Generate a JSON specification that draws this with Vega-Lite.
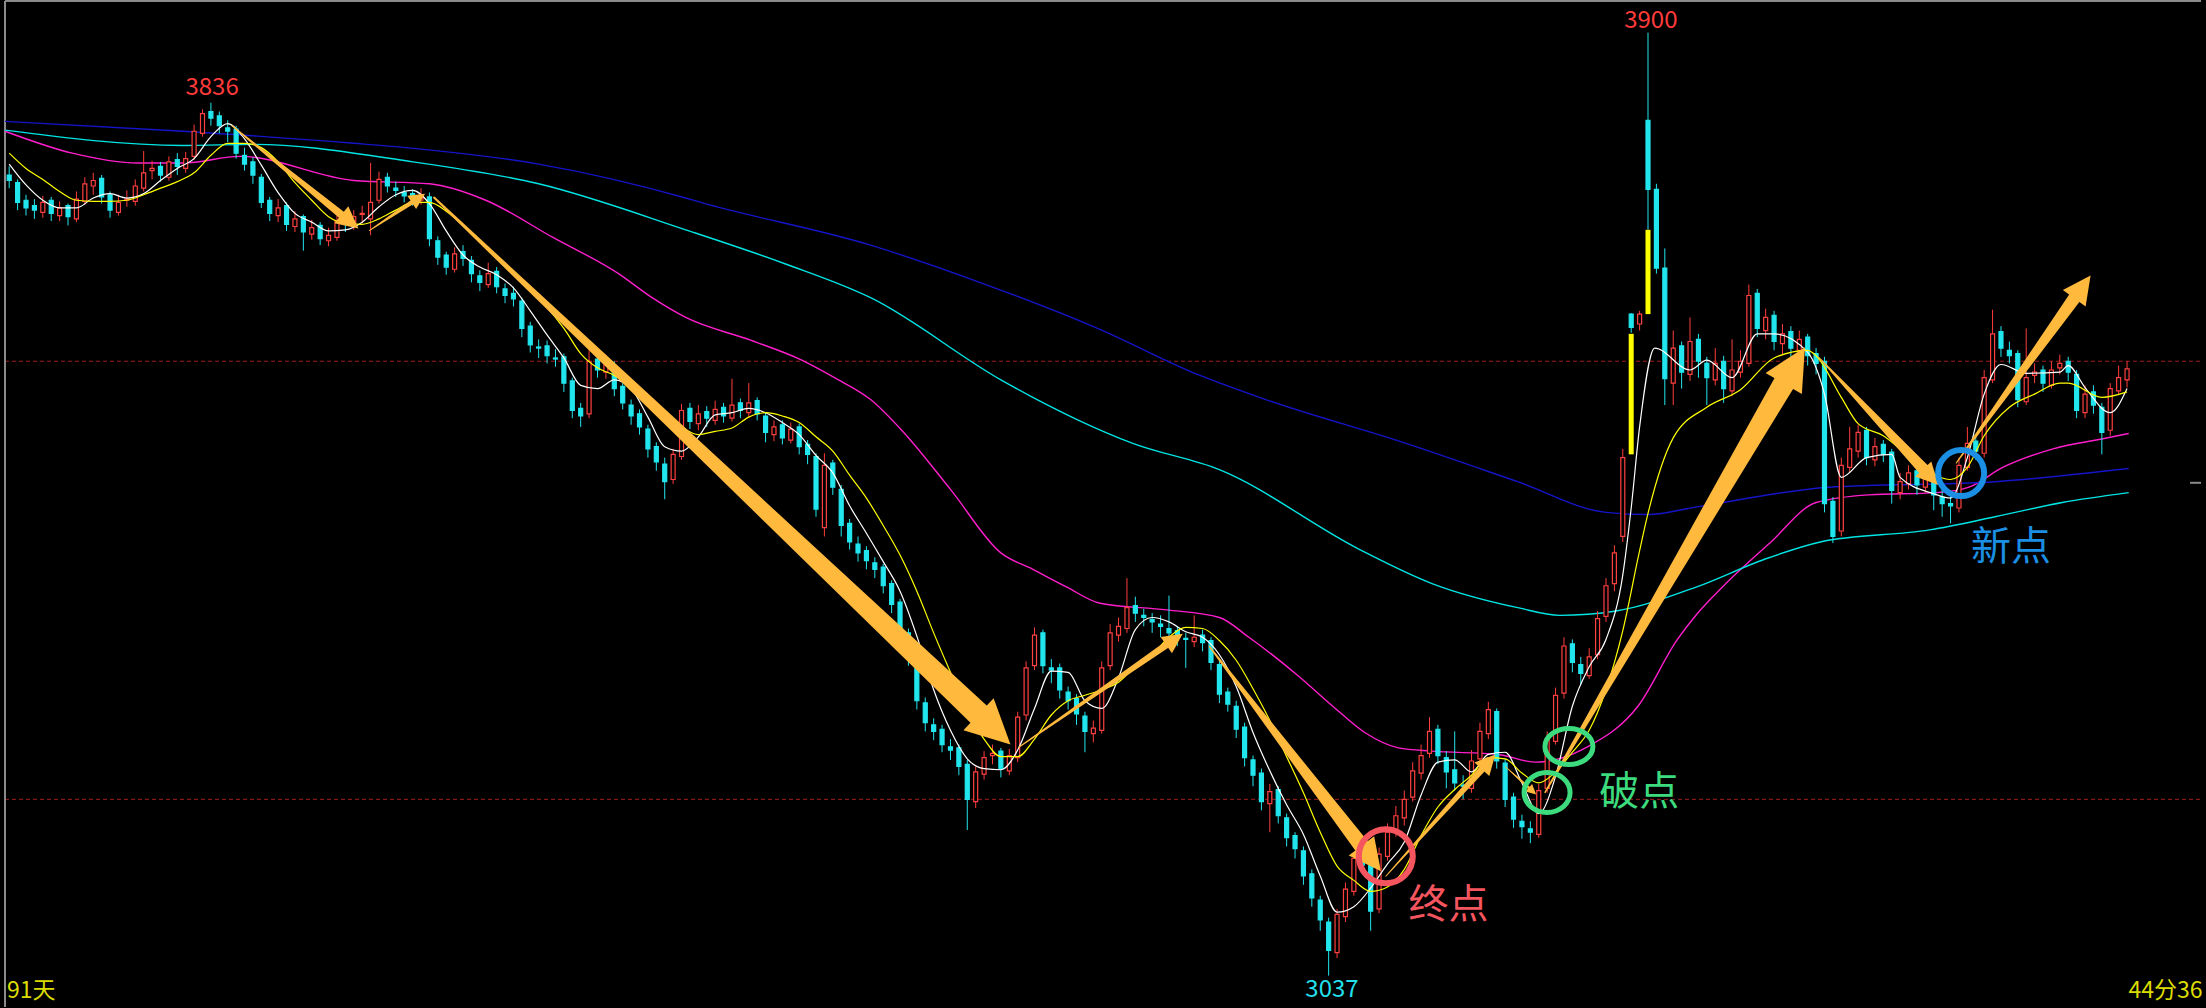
{
"$schema": "https://vega.github.io/schema/vega-lite/v6.json",
"width": 2206, "height": 1008,
"autosize": {"type": "fit", "contains": "padding"},
"padding": 0,
"background": "#000000",
"config": {"view": {"stroke": null}},
"datasets": {
"k": [
{"i":0,"o":3770,"h":3778,"l":3758,"c":3765},{"i":1,"o":3763,"h":3766,"l":3738,"c":3745},{"i":2,"o":3747,"h":3752,"l":3733,"c":3740},{"i":3,"o":3742,"h":3748,"l":3730,"c":3738},{"i":4,"o":3736,"h":3751,"l":3731,"c":3745},{"i":5,"o":3747,"h":3750,"l":3728,"c":3735},{"i":6,"o":3733,"h":3746,"l":3728,"c":3740},{"i":7,"o":3742,"h":3744,"l":3724,"c":3732},{"i":8,"o":3730,"h":3755,"l":3727,"c":3748},{"i":9,"o":3746,"h":3768,"l":3743,"c":3762},
{"i":10,"o":3760,"h":3772,"l":3752,"c":3765},{"i":11,"o":3767,"h":3770,"l":3744,"c":3750},{"i":12,"o":3752,"h":3755,"l":3731,"c":3738},{"i":13,"o":3736,"h":3752,"l":3733,"c":3745},{"i":14,"o":3747,"h":3756,"l":3741,"c":3748},{"i":15,"o":3746,"h":3766,"l":3742,"c":3760},{"i":16,"o":3758,"h":3792,"l":3755,"c":3772},{"i":17,"o":3774,"h":3783,"l":3766,"c":3776},{"i":18,"o":3778,"h":3782,"l":3764,"c":3770},{"i":19,"o":3768,"h":3787,"l":3765,"c":3782},
{"i":20,"o":3784,"h":3790,"l":3770,"c":3778},{"i":21,"o":3776,"h":3791,"l":3772,"c":3785},{"i":22,"o":3787,"h":3816,"l":3784,"c":3810},{"i":23,"o":3808,"h":3830,"l":3805,"c":3826},{"i":24,"o":3828,"h":3836,"l":3815,"c":3822},{"i":25,"o":3824,"h":3828,"l":3808,"c":3815},{"i":26,"o":3813,"h":3820,"l":3800,"c":3810},{"i":27,"o":3812,"h":3815,"l":3785,"c":3790},{"i":28,"o":3788,"h":3795,"l":3774,"c":3780},{"i":29,"o":3782,"h":3786,"l":3762,"c":3770},
{"i":30,"o":3768,"h":3771,"l":3740,"c":3745},{"i":31,"o":3747,"h":3750,"l":3728,"c":3735},{"i":32,"o":3733,"h":3748,"l":3727,"c":3740},{"i":33,"o":3742,"h":3745,"l":3719,"c":3725},{"i":34,"o":3723,"h":3737,"l":3718,"c":3730},{"i":35,"o":3732,"h":3734,"l":3701,"c":3718},{"i":36,"o":3716,"h":3729,"l":3711,"c":3722},{"i":37,"o":3724,"h":3727,"l":3706,"c":3712},{"i":38,"o":3710,"h":3722,"l":3705,"c":3715},{"i":39,"o":3713,"h":3733,"l":3710,"c":3728},
{"i":40,"o":3730,"h":3736,"l":3718,"c":3725},{"i":41,"o":3723,"h":3738,"l":3720,"c":3732},{"i":42,"o":3734,"h":3742,"l":3726,"c":3735},{"i":43,"o":3730,"h":3781,"l":3715,"c":3745},{"i":44,"o":3747,"h":3773,"l":3744,"c":3766},{"i":45,"o":3768,"h":3772,"l":3754,"c":3760},{"i":46,"o":3758,"h":3764,"l":3750,"c":3756},{"i":47,"o":3754,"h":3760,"l":3745,"c":3751},{"i":48,"o":3753,"h":3757,"l":3742,"c":3749},{"i":49,"o":3747,"h":3758,"l":3743,"c":3752},
{"i":50,"o":3750,"h":3754,"l":3705,"c":3712},{"i":51,"o":3710,"h":3714,"l":3688,"c":3695},{"i":52,"o":3697,"h":3700,"l":3679,"c":3686},{"i":53,"o":3684,"h":3704,"l":3681,"c":3698},{"i":54,"o":3700,"h":3706,"l":3687,"c":3694},{"i":55,"o":3692,"h":3696,"l":3672,"c":3680},{"i":56,"o":3678,"h":3683,"l":3664,"c":3672},{"i":57,"o":3670,"h":3690,"l":3667,"c":3680},{"i":58,"o":3682,"h":3686,"l":3662,"c":3668},{"i":59,"o":3666,"h":3671,"l":3653,"c":3660},
{"i":60,"o":3662,"h":3668,"l":3650,"c":3657},{"i":61,"o":3655,"h":3658,"l":3622,"c":3630},{"i":62,"o":3632,"h":3636,"l":3608,"c":3615},{"i":63,"o":3613,"h":3620,"l":3603,"c":3612},{"i":64,"o":3614,"h":3619,"l":3598,"c":3605},{"i":65,"o":3603,"h":3611,"l":3595,"c":3602},{"i":66,"o":3604,"h":3607,"l":3572,"c":3580},{"i":67,"o":3582,"h":3585,"l":3548,"c":3555},{"i":68,"o":3557,"h":3562,"l":3540,"c":3550},{"i":69,"o":3552,"h":3610,"l":3548,"c":3600},
{"i":70,"o":3602,"h":3608,"l":3585,"c":3592},{"i":71,"o":3590,"h":3606,"l":3584,"c":3598},{"i":72,"o":3596,"h":3600,"l":3568,"c":3575},{"i":73,"o":3577,"h":3580,"l":3556,"c":3562},{"i":74,"o":3560,"h":3565,"l":3542,"c":3550},{"i":75,"o":3552,"h":3556,"l":3533,"c":3540},{"i":76,"o":3538,"h":3542,"l":3512,"c":3520},{"i":77,"o":3522,"h":3526,"l":3500,"c":3508},{"i":78,"o":3506,"h":3512,"l":3474,"c":3490},{"i":79,"o":3492,"h":3520,"l":3488,"c":3515},
{"i":80,"o":3513,"h":3561,"l":3510,"c":3555},{"i":81,"o":3557,"h":3562,"l":3538,"c":3545},{"i":82,"o":3543,"h":3560,"l":3537,"c":3552},{"i":83,"o":3554,"h":3559,"l":3540,"c":3548},{"i":84,"o":3546,"h":3564,"l":3542,"c":3556},{"i":85,"o":3558,"h":3562,"l":3544,"c":3550},{"i":86,"o":3548,"h":3584,"l":3545,"c":3560},{"i":87,"o":3562,"h":3566,"l":3548,"c":3555},{"i":88,"o":3553,"h":3580,"l":3549,"c":3562},{"i":89,"o":3564,"h":3567,"l":3546,"c":3552},
{"i":90,"o":3550,"h":3553,"l":3526,"c":3535},{"i":91,"o":3533,"h":3546,"l":3527,"c":3540},{"i":92,"o":3542,"h":3546,"l":3524,"c":3530},{"i":93,"o":3528,"h":3544,"l":3525,"c":3538},{"i":94,"o":3540,"h":3543,"l":3515,"c":3522},{"i":95,"o":3524,"h":3528,"l":3506,"c":3515},{"i":96,"o":3513,"h":3516,"l":3458,"c":3465},{"i":97,"o":3448,"h":3516,"l":3440,"c":3505},{"i":98,"o":3507,"h":3510,"l":3478,"c":3485},{"i":99,"o":3483,"h":3487,"l":3440,"c":3450},
{"i":100,"o":3452,"h":3456,"l":3428,"c":3435},{"i":101,"o":3433,"h":3440,"l":3417,"c":3425},{"i":102,"o":3427,"h":3431,"l":3410,"c":3418},{"i":103,"o":3416,"h":3421,"l":3402,"c":3410},{"i":104,"o":3412,"h":3415,"l":3388,"c":3395},{"i":105,"o":3397,"h":3400,"l":3370,"c":3378},{"i":106,"o":3380,"h":3383,"l":3342,"c":3350},{"i":107,"o":3352,"h":3356,"l":3322,"c":3330},{"i":108,"o":3332,"h":3335,"l":3282,"c":3290},{"i":109,"o":3288,"h":3293,"l":3262,"c":3270},
{"i":110,"o":3268,"h":3274,"l":3254,"c":3262},{"i":111,"o":3264,"h":3268,"l":3243,"c":3250},{"i":112,"o":3248,"h":3255,"l":3236,"c":3245},{"i":113,"o":3247,"h":3250,"l":3222,"c":3230},{"i":114,"o":3232,"h":3236,"l":3172,"c":3200},{"i":115,"o":3198,"h":3230,"l":3192,"c":3225},{"i":116,"o":3223,"h":3244,"l":3218,"c":3238},{"i":117,"o":3240,"h":3250,"l":3232,"c":3242},{"i":118,"o":3244,"h":3247,"l":3220,"c":3228},{"i":119,"o":3226,"h":3246,"l":3222,"c":3240},
{"i":120,"o":3238,"h":3280,"l":3234,"c":3275},{"i":121,"o":3277,"h":3326,"l":3272,"c":3320},{"i":122,"o":3322,"h":3357,"l":3318,"c":3350},{"i":123,"o":3352,"h":3355,"l":3315,"c":3322},{"i":124,"o":3320,"h":3328,"l":3306,"c":3318},{"i":125,"o":3320,"h":3324,"l":3292,"c":3300},{"i":126,"o":3298,"h":3303,"l":3282,"c":3290},{"i":127,"o":3292,"h":3296,"l":3268,"c":3278},{"i":128,"o":3276,"h":3280,"l":3243,"c":3262},{"i":129,"o":3260,"h":3272,"l":3252,"c":3265},
{"i":130,"o":3263,"h":3326,"l":3260,"c":3320},{"i":131,"o":3322,"h":3360,"l":3318,"c":3352},{"i":132,"o":3350,"h":3366,"l":3344,"c":3358},{"i":133,"o":3356,"h":3402,"l":3352,"c":3375},{"i":134,"o":3377,"h":3385,"l":3362,"c":3370},{"i":135,"o":3368,"h":3374,"l":3358,"c":3366},{"i":136,"o":3364,"h":3370,"l":3352,"c":3362},{"i":137,"o":3360,"h":3368,"l":3348,"c":3358},{"i":138,"o":3356,"h":3386,"l":3345,"c":3352},{"i":139,"o":3354,"h":3358,"l":3340,"c":3349},
{"i":140,"o":3347,"h":3352,"l":3320,"c":3346},{"i":141,"o":3344,"h":3368,"l":3339,"c":3348},{"i":142,"o":3350,"h":3355,"l":3335,"c":3343},{"i":143,"o":3345,"h":3348,"l":3318,"c":3325},{"i":144,"o":3323,"h":3327,"l":3288,"c":3296},{"i":145,"o":3298,"h":3302,"l":3280,"c":3287},{"i":146,"o":3285,"h":3290,"l":3256,"c":3264},{"i":147,"o":3266,"h":3270,"l":3230,"c":3238},{"i":148,"o":3236,"h":3240,"l":3212,"c":3222},{"i":149,"o":3224,"h":3228,"l":3190,"c":3198},
{"i":150,"o":3196,"h":3214,"l":3170,"c":3207},{"i":151,"o":3209,"h":3212,"l":3178,"c":3185},{"i":152,"o":3183,"h":3187,"l":3157,"c":3165},{"i":153,"o":3167,"h":3170,"l":3146,"c":3155},{"i":154,"o":3153,"h":3157,"l":3122,"c":3130},{"i":155,"o":3132,"h":3136,"l":3102,"c":3110},{"i":156,"o":3108,"h":3112,"l":3080,"c":3090},{"i":157,"o":3088,"h":3092,"l":3039,"c":3062},{"i":158,"o":3060,"h":3100,"l":3055,"c":3095},{"i":159,"o":3093,"h":3124,"l":3088,"c":3118},
{"i":160,"o":3116,"h":3152,"l":3112,"c":3146},{"i":161,"o":3148,"h":3156,"l":3132,"c":3140},{"i":162,"o":3140,"h":3144,"l":3080,"c":3098},{"i":163,"o":3100,"h":3156,"l":3096,"c":3150},{"i":164,"o":3148,"h":3178,"l":3144,"c":3170},{"i":165,"o":3172,"h":3194,"l":3166,"c":3185},{"i":166,"o":3183,"h":3208,"l":3176,"c":3200},{"i":167,"o":3202,"h":3234,"l":3198,"c":3226},{"i":168,"o":3224,"h":3250,"l":3218,"c":3240},{"i":169,"o":3242,"h":3275,"l":3238,"c":3262},
{"i":170,"o":3264,"h":3268,"l":3232,"c":3240},{"i":171,"o":3238,"h":3244,"l":3210,"c":3225},{"i":172,"o":3227,"h":3262,"l":3208,"c":3215},{"i":173,"o":3213,"h":3222,"l":3200,"c":3212},{"i":174,"o":3210,"h":3245,"l":3206,"c":3235},{"i":175,"o":3237,"h":3270,"l":3232,"c":3262},{"i":176,"o":3260,"h":3289,"l":3255,"c":3282},{"i":177,"o":3280,"h":3283,"l":3228,"c":3235},{"i":178,"o":3233,"h":3237,"l":3193,"c":3200},{"i":179,"o":3202,"h":3206,"l":3174,"c":3182},
{"i":180,"o":3180,"h":3186,"l":3164,"c":3175},{"i":181,"o":3173,"h":3180,"l":3160,"c":3170},{"i":182,"o":3168,"h":3214,"l":3165,"c":3208},{"i":183,"o":3210,"h":3262,"l":3206,"c":3255},{"i":184,"o":3253,"h":3302,"l":3250,"c":3295},{"i":185,"o":3297,"h":3348,"l":3292,"c":3340},{"i":186,"o":3342,"h":3346,"l":3316,"c":3325},{"i":187,"o":3323,"h":3330,"l":3305,"c":3315},{"i":188,"o":3313,"h":3338,"l":3310,"c":3330},{"i":189,"o":3332,"h":3372,"l":3328,"c":3365},
{"i":190,"o":3367,"h":3402,"l":3362,"c":3395},{"i":191,"o":3397,"h":3432,"l":3390,"c":3425},{"i":192,"o":3440,"h":3520,"l":3435,"c":3512},{"i":193,"o":3643,"h":3644,"l":3626,"c":3631},{"i":194,"o":3634,"h":3646,"l":3628,"c":3643},{"i":195,"o":3820,"h":3900,"l":3720,"c":3757},{"i":196,"o":3757,"h":3762,"l":3680,"c":3685},{"i":197,"o":3685,"h":3703,"l":3560,"c":3584},{"i":198,"o":3580,"h":3628,"l":3560,"c":3612},{"i":199,"o":3614,"h":3618,"l":3575,"c":3590},
{"i":200,"o":3588,"h":3640,"l":3582,"c":3618},{"i":201,"o":3620,"h":3625,"l":3585,"c":3600},{"i":202,"o":3598,"h":3604,"l":3560,"c":3585},{"i":203,"o":3583,"h":3612,"l":3578,"c":3598},{"i":204,"o":3600,"h":3605,"l":3562,"c":3575},{"i":205,"o":3573,"h":3620,"l":3568,"c":3592},{"i":206,"o":3590,"h":3610,"l":3585,"c":3600},{"i":207,"o":3598,"h":3670,"l":3595,"c":3660},{"i":208,"o":3662,"h":3666,"l":3622,"c":3630},{"i":209,"o":3628,"h":3648,"l":3620,"c":3640},
{"i":210,"o":3642,"h":3646,"l":3610,"c":3618},{"i":211,"o":3616,"h":3634,"l":3606,"c":3625},{"i":212,"o":3627,"h":3632,"l":3604,"c":3612},{"i":213,"o":3610,"h":3628,"l":3603,"c":3620},{"i":214,"o":3622,"h":3625,"l":3596,"c":3605},{"i":215,"o":3607,"h":3612,"l":3588,"c":3598},{"i":216,"o":3600,"h":3604,"l":3462,"c":3470},{"i":217,"o":3472,"h":3476,"l":3434,"c":3440},{"i":218,"o":3445,"h":3512,"l":3440,"c":3505},{"i":219,"o":3503,"h":3540,"l":3498,"c":3520},
{"i":220,"o":3518,"h":3542,"l":3512,"c":3535},{"i":221,"o":3537,"h":3540,"l":3505,"c":3512},{"i":222,"o":3510,"h":3530,"l":3504,"c":3522},{"i":223,"o":3524,"h":3528,"l":3508,"c":3515},{"i":224,"o":3517,"h":3520,"l":3470,"c":3482},{"i":225,"o":3480,"h":3498,"l":3474,"c":3490},{"i":226,"o":3488,"h":3505,"l":3483,"c":3498},{"i":227,"o":3500,"h":3503,"l":3478,"c":3487},{"i":228,"o":3485,"h":3502,"l":3480,"c":3494},{"i":229,"o":3496,"h":3500,"l":3464,"c":3478},
{"i":230,"o":3476,"h":3486,"l":3458,"c":3470},{"i":231,"o":3470,"h":3480,"l":3452,"c":3468},{"i":232,"o":3466,"h":3512,"l":3462,"c":3505},{"i":233,"o":3503,"h":3540,"l":3500,"c":3525},{"i":234,"o":3527,"h":3532,"l":3510,"c":3518},{"i":235,"o":3516,"h":3592,"l":3512,"c":3585},{"i":236,"o":3583,"h":3647,"l":3580,"c":3625},{"i":237,"o":3627,"h":3632,"l":3604,"c":3612},{"i":238,"o":3610,"h":3618,"l":3598,"c":3605},{"i":239,"o":3607,"h":3610,"l":3558,"c":3565},
{"i":240,"o":3563,"h":3630,"l":3560,"c":3585},{"i":241,"o":3587,"h":3598,"l":3580,"c":3590},{"i":242,"o":3592,"h":3596,"l":3572,"c":3580},{"i":243,"o":3578,"h":3600,"l":3575,"c":3592},{"i":244,"o":3594,"h":3606,"l":3588,"c":3598},{"i":245,"o":3600,"h":3604,"l":3582,"c":3590},{"i":246,"o":3588,"h":3592,"l":3548,"c":3555},{"i":247,"o":3553,"h":3578,"l":3548,"c":3570},{"i":248,"o":3572,"h":3578,"l":3552,"c":3560},{"i":249,"o":3558,"h":3562,"l":3515,"c":3535},
{"i":250,"o":3537,"h":3580,"l":3532,"c":3575},{"i":251,"o":3573,"h":3596,"l":3570,"c":3585},{"i":252,"o":3583,"h":3600,"l":3576,"c":3593}
],
"gaps": [{"i":193,"lo":3515,"hi":3625},{"i":195,"lo":3643,"hi":3720}],
"ma": [
{"k":"m","i":-0.5,"v":3810},{"k":"m","i":7.5,"v":3790},{"k":"m","i":15.3,"v":3781},{"k":"m","i":20.7,"v":3781},{"k":"m","i":27.5,"v":3787},{"k":"m","i":41,"v":3765},{"k":"m","i":50,"v":3762},{"k":"m","i":56.7,"v":3747},{"k":"m","i":64.7,"v":3713},{"k":"m","i":72.5,"v":3680},{"k":"m","i":76.5,"v":3658},{"k":"m","i":80.5,"v":3640},{"k":"m","i":88.3,"v":3619},{"k":"m","i":94.3,"v":3601},{"k":"m","i":98.2,"v":3585},{"k":"m","i":102.5,"v":3565},{"k":"m","i":106.2,"v":3537},{"k":"m","i":112,"v":3483},{"k":"m","i":118,"v":3425},{"k":"m","i":121.8,"v":3410},{"k":"m","i":125.8,"v":3394},{"k":"m","i":129.8,"v":3379},{"k":"m","i":137.7,"v":3373},{"k":"m","i":144,"v":3366},{"k":"m","i":147.5,"v":3348},{"k":"m","i":153.5,"v":3312},{"k":"m","i":157.5,"v":3285},{"k":"m","i":161.3,"v":3261},{"k":"m","i":165.3,"v":3247},{"k":"m","i":169.3,"v":3244},{"k":"m","i":177.2,"v":3241},{"k":"m","i":181.5,"v":3234},{"k":"m","i":187.8,"v":3248},{"k":"m","i":193.8,"v":3285},{"k":"m","i":198.5,"v":3346},{"k":"m","i":200.8,"v":3369},{"k":"m","i":204,"v":3395},{"k":"m","i":209.5,"v":3434},{"k":"m","i":215,"v":3471},{"k":"m","i":221.3,"v":3478},{"k":"m","i":229.3,"v":3480},{"k":"m","i":233.2,"v":3485},{"k":"m","i":237.2,"v":3503},{"k":"m","i":243.2,"v":3520},{"k":"m","i":249,"v":3529},{"k":"m","i":252.2,"v":3534},
{"k":"c","i":-0.5,"v":3811},{"k":"c","i":20.7,"v":3797},{"k":"c","i":29.2,"v":3798},{"k":"c","i":47.2,"v":3783},{"k":"c","i":63,"v":3762},{"k":"c","i":80.5,"v":3720},{"k":"c","i":92.3,"v":3689},{"k":"c","i":102.5,"v":3658},{"k":"c","i":118,"v":3583},{"k":"c","i":121.8,"v":3567},{"k":"c","i":127,"v":3547},{"k":"c","i":133.7,"v":3525},{"k":"c","i":144,"v":3501},{"k":"c","i":160.7,"v":3428},{"k":"c","i":169.3,"v":3397},{"k":"c","i":179.5,"v":3375},{"k":"c","i":184.5,"v":3368},{"k":"c","i":191.2,"v":3372},{"k":"c","i":200.8,"v":3394},{"k":"c","i":208.8,"v":3419},{"k":"c","i":215.5,"v":3435},{"k":"c","i":228.5,"v":3446},{"k":"c","i":236.3,"v":3458},{"k":"c","i":244.3,"v":3471},{"k":"c","i":252.2,"v":3480},
{"k":"b","i":-0.5,"v":3819},{"k":"b","i":20.7,"v":3810},{"k":"b","i":41,"v":3799},{"k":"b","i":47.2,"v":3795},{"k":"b","i":63,"v":3780},{"k":"b","i":80.5,"v":3749},{"k":"b","i":82.3,"v":3745},{"k":"b","i":102.5,"v":3706},{"k":"b","i":116.2,"v":3670},{"k":"b","i":129.5,"v":3630},{"k":"b","i":141.7,"v":3587},{"k":"b","i":149.5,"v":3565},{"k":"b","i":166.2,"v":3525},{"k":"b","i":179.5,"v":3490},{"k":"b","i":190,"v":3462},{"k":"b","i":195,"v":3460},{"k":"b","i":200.8,"v":3467},{"k":"b","i":216.5,"v":3485},{"k":"b","i":236.3,"v":3490},{"k":"b","i":252.2,"v":3502}
],
"mas": [
{"k":"w","i":0,"v":3780},{"k":"w","i":2,"v":3761},{"k":"w","i":4,"v":3747},{"k":"w","i":6,"v":3740},{"k":"w","i":8,"v":3740},{"k":"w","i":10,"v":3749},{"k":"w","i":12,"v":3753},{"k":"w","i":14,"v":3749},{"k":"w","i":16,"v":3753},{"k":"w","i":18,"v":3765},{"k":"w","i":20,"v":3776},{"k":"w","i":22,"v":3785},{"k":"w","i":24,"v":3805},{"k":"w","i":26,"v":3817},{"k":"w","i":28,"v":3803},{"k":"w","i":30,"v":3779},{"k":"w","i":32,"v":3754},{"k":"w","i":34,"v":3735},{"k":"w","i":36,"v":3727},{"k":"w","i":38,"v":3719},{"k":"w","i":40,"v":3720},{"k":"w","i":42,"v":3727},{"k":"w","i":44,"v":3741},{"k":"w","i":46,"v":3752},{"k":"w","i":48,"v":3756},{"k":"w","i":50,"v":3744},{"k":"w","i":52,"v":3719},{"k":"w","i":54,"v":3697},{"k":"w","i":56,"v":3686},{"k":"w","i":58,"v":3679},{"k":"w","i":60,"v":3667},{"k":"w","i":62,"v":3646},{"k":"w","i":64,"v":3624},{"k":"w","i":66,"v":3603},{"k":"w","i":68,"v":3578},{"k":"w","i":70,"v":3575},{"k":"w","i":72,"v":3583},{"k":"w","i":74,"v":3575},{"k":"w","i":76,"v":3549},{"k":"w","i":78,"v":3522},{"k":"w","i":80,"v":3518},{"k":"w","i":82,"v":3531},{"k":"w","i":84,"v":3551},{"k":"w","i":86,"v":3553},{"k":"w","i":88,"v":3557},{"k":"w","i":90,"v":3553},{"k":"w","i":92,"v":3544},{"k":"w","i":94,"v":3533},{"k":"w","i":96,"v":3514},{"k":"w","i":98,"v":3498},{"k":"w","i":100,"v":3468},{"k":"w","i":102,"v":3443},{"k":"w","i":104,"v":3417},{"k":"w","i":106,"v":3390},{"k":"w","i":108,"v":3349},{"k":"w","i":110,"v":3300},{"k":"w","i":112,"v":3263},{"k":"w","i":114,"v":3237},{"k":"w","i":116,"v":3228},{"k":"w","i":118,"v":3227},{"k":"w","i":120,"v":3245},{"k":"w","i":122,"v":3283},{"k":"w","i":124,"v":3317},{"k":"w","i":126,"v":3316},{"k":"w","i":128,"v":3290},{"k":"w","i":130,"v":3283},{"k":"w","i":132,"v":3311},{"k":"w","i":134,"v":3355},{"k":"w","i":136,"v":3366},{"k":"w","i":138,"v":3362},{"k":"w","i":140,"v":3353},{"k":"w","i":142,"v":3348},{"k":"w","i":144,"v":3332},{"k":"w","i":146,"v":3303},{"k":"w","i":148,"v":3261},{"k":"w","i":150,"v":3226},{"k":"w","i":152,"v":3195},{"k":"w","i":154,"v":3168},{"k":"w","i":156,"v":3130},{"k":"w","i":158,"v":3097},{"k":"w","i":160,"v":3102},{"k":"w","i":162,"v":3119},{"k":"w","i":164,"v":3141},{"k":"w","i":166,"v":3161},{"k":"w","i":168,"v":3204},{"k":"w","i":170,"v":3234},{"k":"w","i":172,"v":3236},{"k":"w","i":174,"v":3225},{"k":"w","i":176,"v":3241},{"k":"w","i":178,"v":3243},{"k":"w","i":180,"v":3215},{"k":"w","i":182,"v":3187},{"k":"w","i":184,"v":3221},{"k":"w","i":186,"v":3285},{"k":"w","i":188,"v":3321},{"k":"w","i":190,"v":3346},{"k":"w","i":192,"v":3405},{"k":"w","i":193,"v":3466},{"k":"w","i":194,"v":3540},{"k":"w","i":195.8,"v":3612},{"k":"w","i":200,"v":3592},{"k":"w","i":202,"v":3601},{"k":"w","i":205,"v":3585},{"k":"w","i":208,"v":3625},{"k":"w","i":210,"v":3625},{"k":"w","i":214,"v":3608},{"k":"w","i":216,"v":3570},{"k":"w","i":218,"v":3494},{"k":"w","i":221,"v":3512},{"k":"w","i":224,"v":3515},{"k":"w","i":225,"v":3494},{"k":"w","i":229,"v":3479},{"k":"w","i":231,"v":3475},{"k":"w","i":233,"v":3512},{"k":"w","i":235,"v":3570},{"k":"w","i":237,"v":3597},{"k":"w","i":240,"v":3589},{"k":"w","i":244,"v":3590},{"k":"w","i":245,"v":3596},{"k":"w","i":247,"v":3576},{"k":"w","i":250,"v":3553},{"k":"w","i":252,"v":3575},
{"k":"y","i":0,"v":3790},{"k":"y","i":2,"v":3776},{"k":"y","i":4,"v":3766},{"k":"y","i":6,"v":3755},{"k":"y","i":8,"v":3747},{"k":"y","i":10,"v":3746},{"k":"y","i":12,"v":3746},{"k":"y","i":14,"v":3747},{"k":"y","i":16,"v":3752},{"k":"y","i":18,"v":3758},{"k":"y","i":20,"v":3764},{"k":"y","i":22,"v":3772},{"k":"y","i":24,"v":3788},{"k":"y","i":26,"v":3799},{"k":"y","i":28,"v":3799},{"k":"y","i":30,"v":3795},{"k":"y","i":32,"v":3782},{"k":"y","i":34,"v":3763},{"k":"y","i":36,"v":3747},{"k":"y","i":38,"v":3732},{"k":"y","i":40,"v":3726},{"k":"y","i":42,"v":3725},{"k":"y","i":44,"v":3730},{"k":"y","i":46,"v":3738},{"k":"y","i":48,"v":3745},{"k":"y","i":50,"v":3745},{"k":"y","i":52,"v":3737},{"k":"y","i":54,"v":3724},{"k":"y","i":56,"v":3709},{"k":"y","i":58,"v":3694},{"k":"y","i":60,"v":3679},{"k":"y","i":62,"v":3664},{"k":"y","i":64,"v":3649},{"k":"y","i":66,"v":3630},{"k":"y","i":68,"v":3607},{"k":"y","i":70,"v":3594},{"k":"y","i":72,"v":3587},{"k":"y","i":74,"v":3576},{"k":"y","i":76,"v":3564},{"k":"y","i":78,"v":3551},{"k":"y","i":80,"v":3540},{"k":"y","i":82,"v":3533},{"k":"y","i":84,"v":3536},{"k":"y","i":86,"v":3539},{"k":"y","i":88,"v":3549},{"k":"y","i":90,"v":3553},{"k":"y","i":92,"v":3550},{"k":"y","i":94,"v":3544},{"k":"y","i":96,"v":3531},{"k":"y","i":98,"v":3518},{"k":"y","i":100,"v":3496},{"k":"y","i":102,"v":3475},{"k":"y","i":104,"v":3450},{"k":"y","i":106,"v":3423},{"k":"y","i":108,"v":3390},{"k":"y","i":110,"v":3352},{"k":"y","i":112,"v":3316},{"k":"y","i":114,"v":3281},{"k":"y","i":116,"v":3255},{"k":"y","i":118,"v":3239},{"k":"y","i":120,"v":3239},{"k":"y","i":122,"v":3255},{"k":"y","i":124,"v":3277},{"k":"y","i":126,"v":3290},{"k":"y","i":128,"v":3295},{"k":"y","i":130,"v":3300},{"k":"y","i":132,"v":3307},{"k":"y","i":134,"v":3321},{"k":"y","i":136,"v":3332},{"k":"y","i":138,"v":3348},{"k":"y","i":140,"v":3357},{"k":"y","i":142,"v":3356},{"k":"y","i":144,"v":3345},{"k":"y","i":146,"v":3327},{"k":"y","i":148,"v":3301},{"k":"y","i":150,"v":3272},{"k":"y","i":152,"v":3239},{"k":"y","i":154,"v":3206},{"k":"y","i":156,"v":3170},{"k":"y","i":158,"v":3139},{"k":"y","i":160,"v":3126},{"k":"y","i":162,"v":3116},{"k":"y","i":164,"v":3120},{"k":"y","i":166,"v":3136},{"k":"y","i":168,"v":3167},{"k":"y","i":170,"v":3193},{"k":"y","i":172,"v":3209},{"k":"y","i":174,"v":3222},{"k":"y","i":176,"v":3238},{"k":"y","i":178,"v":3237},{"k":"y","i":180,"v":3224},{"k":"y","i":182,"v":3215},{"k":"y","i":184,"v":3225},{"k":"y","i":186,"v":3243},{"k":"y","i":188,"v":3263},{"k":"y","i":190,"v":3300},{"k":"y","i":192,"v":3354},{"k":"y","i":194,"v":3427},{"k":"y","i":195,"v":3461},{"k":"y","i":198,"v":3530},{"k":"y","i":202,"v":3558},{"k":"y","i":206,"v":3574},{"k":"y","i":210,"v":3603},{"k":"y","i":214,"v":3610},{"k":"y","i":215,"v":3605},{"k":"y","i":218,"v":3567},{"k":"y","i":220,"v":3543},{"k":"y","i":223,"v":3532},{"k":"y","i":227,"v":3507},{"k":"y","i":231,"v":3492},{"k":"y","i":233,"v":3503},{"k":"y","i":235,"v":3532},{"k":"y","i":238,"v":3558},{"k":"y","i":241,"v":3570},{"k":"y","i":244,"v":3580},{"k":"y","i":245,"v":3580},{"k":"y","i":249,"v":3567},{"k":"y","i":252,"v":3572}
],
"lines": [
{"k":"d","i":-0.5,"i2":260.8,"p":3600,"p2":3600},{"k":"d","i":-0.5,"i2":260.8,"p":3200,"p2":3200},
{"k":"f","i":-0.5,"i2":-0.5,"p":3010.4,"p2":3928.9},{"k":"f","i":-0.5,"i2":260.8,"p":3928.9,"p2":3928.9},{"k":"t","i":259.5,"i2":260.8,"p":3489,"p2":3489}
],
"arrows": [
{"a":"A","e":0,"i":26.51,"p":3815.0},{"a":"A","e":1,"i":40.13,"p":3730.0},{"a":"A","e":2,"i":40.54,"p":3727.4},
{"a":"B","e":0,"i":42.85,"p":3719.3},{"a":"B","e":1,"i":48.37,"p":3747.4},{"a":"B","e":2,"i":48.69,"p":3749.0},
{"a":"C","e":0,"i":50.55,"p":3749.4},{"a":"C","e":1,"i":116.49,"p":3269.4},{"a":"C","e":2,"i":117.24,"p":3263.8},
{"a":"D","e":0,"i":120.09,"p":3247.3},{"a":"D","e":1,"i":138.27,"p":3343.9},{"a":"D","e":2,"i":138.66,"p":3346.0},
{"a":"E","e":0,"i":142.83,"p":3339.4},{"a":"E","e":1,"i":161.59,"p":3150.6},{"a":"E","e":2,"i":162.06,"p":3145.9},
{"a":"F","e":0,"i":163.80,"p":3129.8},{"a":"F","e":1,"i":175.71,"p":3231.5},{"a":"F","e":2,"i":176.03,"p":3234.2},
{"a":"G","e":0,"i":178.01,"p":3230.0},{"a":"G","e":1,"i":181.07,"p":3208.8},{"a":"G","e":2,"i":181.25,"p":3207.5},
{"a":"H","e":0,"i":182.75,"p":3206.3},{"a":"H","e":1,"i":211.92,"p":3589.6},{"a":"H","e":2,"i":212.41,"p":3596.2},
{"a":"I","e":0,"i":215.33,"p":3603.6},{"a":"I","e":1,"i":228.30,"p":3497.2},{"a":"I","e":2,"i":228.65,"p":3494.3},
{"a":"J","e":0,"i":231.67,"p":3507.0},{"a":"J","e":1,"i":246.31,"p":3663.8},{"a":"J","e":2,"i":246.69,"p":3667.9}
],
"circ": [
{"k":"end","i":163.80,"p":3148.0},{"k":"b1","i":185.59,"p":3248.2},{"k":"b2","i":182.99,"p":3206.3},{"k":"new","i":232.26,"p":3497.9}
],
"lab": [
{"k":"r","t":"3836","i":24.14,"p":3849.6},{"k":"r","t":"3900","i":195.34,"p":3910.2},{"k":"c","t":"3037","i":157.4,"p":3026.0},
{"k":"end","t":"终点","i":171.26,"p":3102.7},{"k":"brk","t":"破点","i":193.97,"p":3205.4},{"k":"new","t":"新点","i":238.19,"p":3429.8},
{"k":"y","t":"91天","i":-0.26,"p":3025.0},{"k":"y","t":"44分36","i":252.17,"p":3025.0}
]
},
"encoding": {"x": {"field": "i", "type": "quantitative", "scale": {"domain": [-0.5, 260.8], "nice": false, "zero": false}, "axis": null}},
"layer": [
{"data": {"name": "lines"}, "transform": [{"filter": "datum.k=='d'"}], "mark": {"type": "rule", "color": "#A01E1E", "strokeWidth": 1, "strokeDash": [4, 3]},
 "encoding": {"x2": {"field": "i2"}, "y": {"field": "p", "type": "quantitative", "scale": {"domain": [3010.4, 3928.9], "nice": false, "zero": false}, "axis": null}, "y2": {"field": "p2"}}},
{"data": {"name": "lines"}, "transform": [{"filter": "datum.k!='d'"}], "mark": {"type": "rule", "color": "#8A8A8A", "strokeWidth": 2},
 "encoding": {"x2": {"field": "i2"}, "y": {"field": "p", "type": "quantitative", "scale": {"domain": [3010.4, 3928.9], "nice": false, "zero": false}, "axis": null}, "y2": {"field": "p2"}}},
{"data": {"name": "ma"}, "mark": {"type": "line", "strokeWidth": 1.4, "interpolate": "monotone"},
 "encoding": {"y": {"field": "v", "type": "quantitative", "scale": {"domain": [3010.4, 3928.9], "nice": false, "zero": false}, "axis": null},
  "color": {"field": "k", "type": "nominal", "scale": {"domain": ["m", "c", "b"], "range": ["#FF1ECC", "#00E4E4", "#1414C8"]}, "legend": null}}},
{"data": {"name": "k"}, "mark": {"type": "rule", "strokeWidth": 1},
 "encoding": {"y": {"field": "l", "type": "quantitative", "scale": {"domain": [3010.4, 3928.9], "nice": false, "zero": false}, "axis": null}, "y2": {"field": "h"},
  "color": {"condition": {"test": "datum.c>=datum.o", "value": "#FF3C3C"}, "value": "#22E6EE"}}},
{"data": {"name": "k"}, "mark": {"type": "bar", "size": 4, "strokeWidth": 1.2},
 "encoding": {"y": {"field": "o", "type": "quantitative", "scale": {"domain": [3010.4, 3928.9], "nice": false, "zero": false}, "axis": null}, "y2": {"field": "c"},
  "fill": {"condition": {"test": "datum.c>=datum.o", "value": "#000000"}, "value": "#22E6EE"},
  "stroke": {"condition": {"test": "datum.c>=datum.o", "value": "#FF4040"}, "value": "#22E6EE"}}},
{"data": {"name": "gaps"}, "mark": {"type": "bar", "size": 5, "color": "#FFFF00"},
 "encoding": {"y": {"field": "lo", "type": "quantitative", "scale": {"domain": [3010.4, 3928.9], "nice": false, "zero": false}, "axis": null}, "y2": {"field": "hi"}}},
{"data": {"name": "mas"}, "mark": {"type": "line", "strokeWidth": 1.2, "interpolate": "monotone"},
 "encoding": {"y": {"field": "v", "type": "quantitative", "scale": {"domain": [3010.4, 3928.9], "nice": false, "zero": false}, "axis": null},
  "color": {"field": "k", "type": "nominal", "scale": {"domain": ["w", "y"], "range": ["#FFFFFF", "#FFFF00"]}, "legend": null}}},

{"data": {"name": "arrows"}, "transform": [{"filter": "datum.a=='A'&&datum.e<2"}], "mark": {"type": "trail", "color": "#FFB93C"}, "encoding": {"y": {"field": "p", "type": "quantitative", "scale": {"domain": [3010.4, 3928.9], "nice": false, "zero": false}, "axis": null}, "size": {"field": "e", "type": "quantitative", "scale": {"domain": [0, 1], "range": [1, 8]}, "legend": null}}},
{"data": {"name": "arrows"}, "transform": [{"filter": "datum.a=='B'&&datum.e<2"}], "mark": {"type": "trail", "color": "#FFB93C"}, "encoding": {"y": {"field": "p", "type": "quantitative", "scale": {"domain": [3010.4, 3928.9], "nice": false, "zero": false}, "axis": null}, "size": {"field": "e", "type": "quantitative", "scale": {"domain": [0, 1], "range": [1, 5]}, "legend": null}}},
{"data": {"name": "arrows"}, "transform": [{"filter": "datum.a=='C'&&datum.e<2"}], "mark": {"type": "trail", "color": "#FFB93C"}, "encoding": {"y": {"field": "p", "type": "quantitative", "scale": {"domain": [3010.4, 3928.9], "nice": false, "zero": false}, "axis": null}, "size": {"field": "e", "type": "quantitative", "scale": {"domain": [0, 1], "range": [2, 24]}, "legend": null}}},
{"data": {"name": "arrows"}, "transform": [{"filter": "datum.a=='D'&&datum.e<2"}], "mark": {"type": "trail", "color": "#FFB93C"}, "encoding": {"y": {"field": "p", "type": "quantitative", "scale": {"domain": [3010.4, 3928.9], "nice": false, "zero": false}, "axis": null}, "size": {"field": "e", "type": "quantitative", "scale": {"domain": [0, 1], "range": [1, 7]}, "legend": null}}},
{"data": {"name": "arrows"}, "transform": [{"filter": "datum.a=='E'&&datum.e<2"}], "mark": {"type": "trail", "color": "#FFB93C"}, "encoding": {"y": {"field": "p", "type": "quantitative", "scale": {"domain": [3010.4, 3928.9], "nice": false, "zero": false}, "axis": null}, "size": {"field": "e", "type": "quantitative", "scale": {"domain": [0, 1], "range": [1.5, 16]}, "legend": null}}},
{"data": {"name": "arrows"}, "transform": [{"filter": "datum.a=='F'&&datum.e<2"}], "mark": {"type": "trail", "color": "#FFB93C"}, "encoding": {"y": {"field": "p", "type": "quantitative", "scale": {"domain": [3010.4, 3928.9], "nice": false, "zero": false}, "axis": null}, "size": {"field": "e", "type": "quantitative", "scale": {"domain": [0, 1], "range": [1, 7]}, "legend": null}}},
{"data": {"name": "arrows"}, "transform": [{"filter": "datum.a=='G'&&datum.e<2"}], "mark": {"type": "trail", "color": "#FFB93C"}, "encoding": {"y": {"field": "p", "type": "quantitative", "scale": {"domain": [3010.4, 3928.9], "nice": false, "zero": false}, "axis": null}, "size": {"field": "e", "type": "quantitative", "scale": {"domain": [0, 1], "range": [0.5, 3]}, "legend": null}}},
{"data": {"name": "arrows"}, "transform": [{"filter": "datum.a=='H'&&datum.e<2"}], "mark": {"type": "trail", "color": "#FFB93C"}, "encoding": {"y": {"field": "p", "type": "quantitative", "scale": {"domain": [3010.4, 3928.9], "nice": false, "zero": false}, "axis": null}, "size": {"field": "e", "type": "quantitative", "scale": {"domain": [0, 1], "range": [1.5, 22]}, "legend": null}}},
{"data": {"name": "arrows"}, "transform": [{"filter": "datum.a=='I'&&datum.e<2"}], "mark": {"type": "trail", "color": "#FFB93C"}, "encoding": {"y": {"field": "p", "type": "quantitative", "scale": {"domain": [3010.4, 3928.9], "nice": false, "zero": false}, "axis": null}, "size": {"field": "e", "type": "quantitative", "scale": {"domain": [0, 1], "range": [1, 12]}, "legend": null}}},
{"data": {"name": "arrows"}, "transform": [{"filter": "datum.a=='J'&&datum.e<2"}], "mark": {"type": "trail", "color": "#FFB93C"}, "encoding": {"y": {"field": "p", "type": "quantitative", "scale": {"domain": [3010.4, 3928.9], "nice": false, "zero": false}, "axis": null}, "size": {"field": "e", "type": "quantitative", "scale": {"domain": [0, 1], "range": [1, 13]}, "legend": null}}},

{"data": {"name": "arrows"}, "transform": [{"filter": "datum.a=='A'&&datum.e==2"}], "mark": {"type": "point", "shape": "M0,-1L-1,1L1,1Z", "filled": true, "color": "#FFB93C", "opacity": 1, "size": 484, "angle": 129.0}, "encoding": {"y": {"field": "p", "type": "quantitative", "scale": {"domain": [3010.4, 3928.9], "nice": false, "zero": false}, "axis": null}}},
{"data": {"name": "arrows"}, "transform": [{"filter": "datum.a=='B'&&datum.e==2"}], "mark": {"type": "point", "shape": "M0,-1L-1,1L1,1Z", "filled": true, "color": "#FFB93C", "opacity": 1, "size": 256, "angle": 56.6}, "encoding": {"y": {"field": "p", "type": "quantitative", "scale": {"domain": [3010.4, 3928.9], "nice": false, "zero": false}, "axis": null}}},
{"data": {"name": "arrows"}, "transform": [{"filter": "datum.a=='C'&&datum.e==2"}], "mark": {"type": "point", "shape": "M0,-1L-1,1L1,1Z", "filled": true, "color": "#FFB93C", "opacity": 1, "size": 1936, "angle": 133.4}, "encoding": {"y": {"field": "p", "type": "quantitative", "scale": {"domain": [3010.4, 3928.9], "nice": false, "zero": false}, "axis": null}}},
{"data": {"name": "arrows"}, "transform": [{"filter": "datum.a=='D'&&datum.e==2"}], "mark": {"type": "point", "shape": "M0,-1L-1,1L1,1Z", "filled": true, "color": "#FFB93C", "opacity": 1, "size": 400, "angle": 55.4}, "encoding": {"y": {"field": "p", "type": "quantitative", "scale": {"domain": [3010.4, 3928.9], "nice": false, "zero": false}, "axis": null}}},
{"data": {"name": "arrows"}, "transform": [{"filter": "datum.a=='E'&&datum.e==2"}], "mark": {"type": "point", "shape": "M0,-1L-1,1L1,1Z", "filled": true, "color": "#FFB93C", "opacity": 1, "size": 1024, "angle": 142.6}, "encoding": {"y": {"field": "p", "type": "quantitative", "scale": {"domain": [3010.4, 3928.9], "nice": false, "zero": false}, "axis": null}}},
{"data": {"name": "arrows"}, "transform": [{"filter": "datum.a=='F'&&datum.e==2"}], "mark": {"type": "point", "shape": "M0,-1L-1,1L1,1Z", "filled": true, "color": "#FFB93C", "opacity": 1, "size": 400, "angle": 42.0}, "encoding": {"y": {"field": "p", "type": "quantitative", "scale": {"domain": [3010.4, 3928.9], "nice": false, "zero": false}, "axis": null}}},
{"data": {"name": "arrows"}, "transform": [{"filter": "datum.a=='G'&&datum.e==2"}], "mark": {"type": "point", "shape": "M0,-1L-1,1L1,1Z", "filled": true, "color": "#FFB93C", "opacity": 1, "size": 100, "angle": 132.1}, "encoding": {"y": {"field": "p", "type": "quantitative", "scale": {"domain": [3010.4, 3928.9], "nice": false, "zero": false}, "axis": null}}},
{"data": {"name": "arrows"}, "transform": [{"filter": "datum.a=='H'&&datum.e==2"}], "mark": {"type": "point", "shape": "M0,-1L-1,1L1,1Z", "filled": true, "color": "#FFB93C", "opacity": 1, "size": 1764, "angle": 30.3}, "encoding": {"y": {"field": "p", "type": "quantitative", "scale": {"domain": [3010.4, 3928.9], "nice": false, "zero": false}, "axis": null}}},
{"data": {"name": "arrows"}, "transform": [{"filter": "datum.a=='I'&&datum.e==2"}], "mark": {"type": "point", "shape": "M0,-1L-1,1L1,1Z", "filled": true, "color": "#FFB93C", "opacity": 1, "size": 484, "angle": 136.8}, "encoding": {"y": {"field": "p", "type": "quantitative", "scale": {"domain": [3010.4, 3928.9], "nice": false, "zero": false}, "axis": null}}},
{"data": {"name": "arrows"}, "transform": [{"filter": "datum.a=='J'&&datum.e==2"}], "mark": {"type": "point", "shape": "M0,-1L-1,1L1,1Z", "filled": true, "color": "#FFB93C", "opacity": 1, "size": 784, "angle": 35.7}, "encoding": {"y": {"field": "p", "type": "quantitative", "scale": {"domain": [3010.4, 3928.9], "nice": false, "zero": false}, "axis": null}}},

{"data": {"name": "circ"}, "transform": [{"filter": "datum.k=='end'"}], "mark": {"type": "point", "shape": "circle", "filled": false, "color": "#F5555E", "opacity": 1, "size": 2916, "strokeWidth": 6}, "encoding": {"y": {"field": "p", "type": "quantitative", "scale": {"domain": [3010.4, 3928.9], "nice": false, "zero": false}, "axis": null}}},
{"data": {"name": "circ"}, "transform": [{"filter": "datum.k=='b1'"}], "mark": {"type": "point", "shape": "M-1,0A1,0.75,0,1,0,1,0A1,0.75,0,1,0,-1,0Z", "filled": false, "color": "#3CDB7E", "opacity": 1, "size": 2304, "strokeWidth": 5}, "encoding": {"y": {"field": "p", "type": "quantitative", "scale": {"domain": [3010.4, 3928.9], "nice": false, "zero": false}, "axis": null}}},
{"data": {"name": "circ"}, "transform": [{"filter": "datum.k=='b2'"}], "mark": {"type": "point", "shape": "M-1,0A1,0.87,0,1,0,1,0A1,0.87,0,1,0,-1,0Z", "filled": false, "color": "#3CDB7E", "opacity": 1, "size": 2116, "strokeWidth": 5}, "encoding": {"y": {"field": "p", "type": "quantitative", "scale": {"domain": [3010.4, 3928.9], "nice": false, "zero": false}, "axis": null}}},
{"data": {"name": "circ"}, "transform": [{"filter": "datum.k=='new'"}], "mark": {"type": "point", "shape": "circle", "filled": false, "color": "#1A8FE3", "opacity": 1, "size": 2116, "strokeWidth": 6}, "encoding": {"y": {"field": "p", "type": "quantitative", "scale": {"domain": [3010.4, 3928.9], "nice": false, "zero": false}, "axis": null}}},

{"data": {"name": "lab"}, "transform": [{"filter": "datum.k=='r'||datum.k=='c'"}], "mark": {"type": "text", "font": "Noto Sans CJK SC", "fontSize": 24, "align": "center", "baseline": "middle"},
 "encoding": {"y": {"field": "p", "type": "quantitative", "scale": {"domain": [3010.4, 3928.9], "nice": false, "zero": false}, "axis": null}, "text": {"field": "t"},
  "color": {"field": "k", "type": "nominal", "scale": {"domain": ["r", "c"], "range": ["#FF3B3B", "#22E2EE"]}, "legend": null}}},
{"data": {"name": "lab"}, "transform": [{"filter": "datum.k=='end'||datum.k=='brk'||datum.k=='new'"}], "mark": {"type": "text", "font": "Noto Sans CJK SC", "fontSize": 40, "align": "center", "baseline": "middle"},
 "encoding": {"y": {"field": "p", "type": "quantitative", "scale": {"domain": [3010.4, 3928.9], "nice": false, "zero": false}, "axis": null}, "text": {"field": "t"},
  "color": {"field": "k", "type": "nominal", "scale": {"domain": ["end", "brk", "new"], "range": ["#F5555E", "#3CDB7E", "#1A8FE3"]}, "legend": null}}},
{"data": {"name": "lab"}, "transform": [{"filter": "datum.k=='y'"}], "mark": {"type": "text", "font": "Noto Sans CJK SC", "fontSize": 23, "align": "left", "baseline": "middle", "color": "#DCDC00"},
 "encoding": {"y": {"field": "p", "type": "quantitative", "scale": {"domain": [3010.4, 3928.9], "nice": false, "zero": false}, "axis": null}, "text": {"field": "t"}}}
],
"resolve": {"scale": {"color": "independent", "size": "independent"}}
}
